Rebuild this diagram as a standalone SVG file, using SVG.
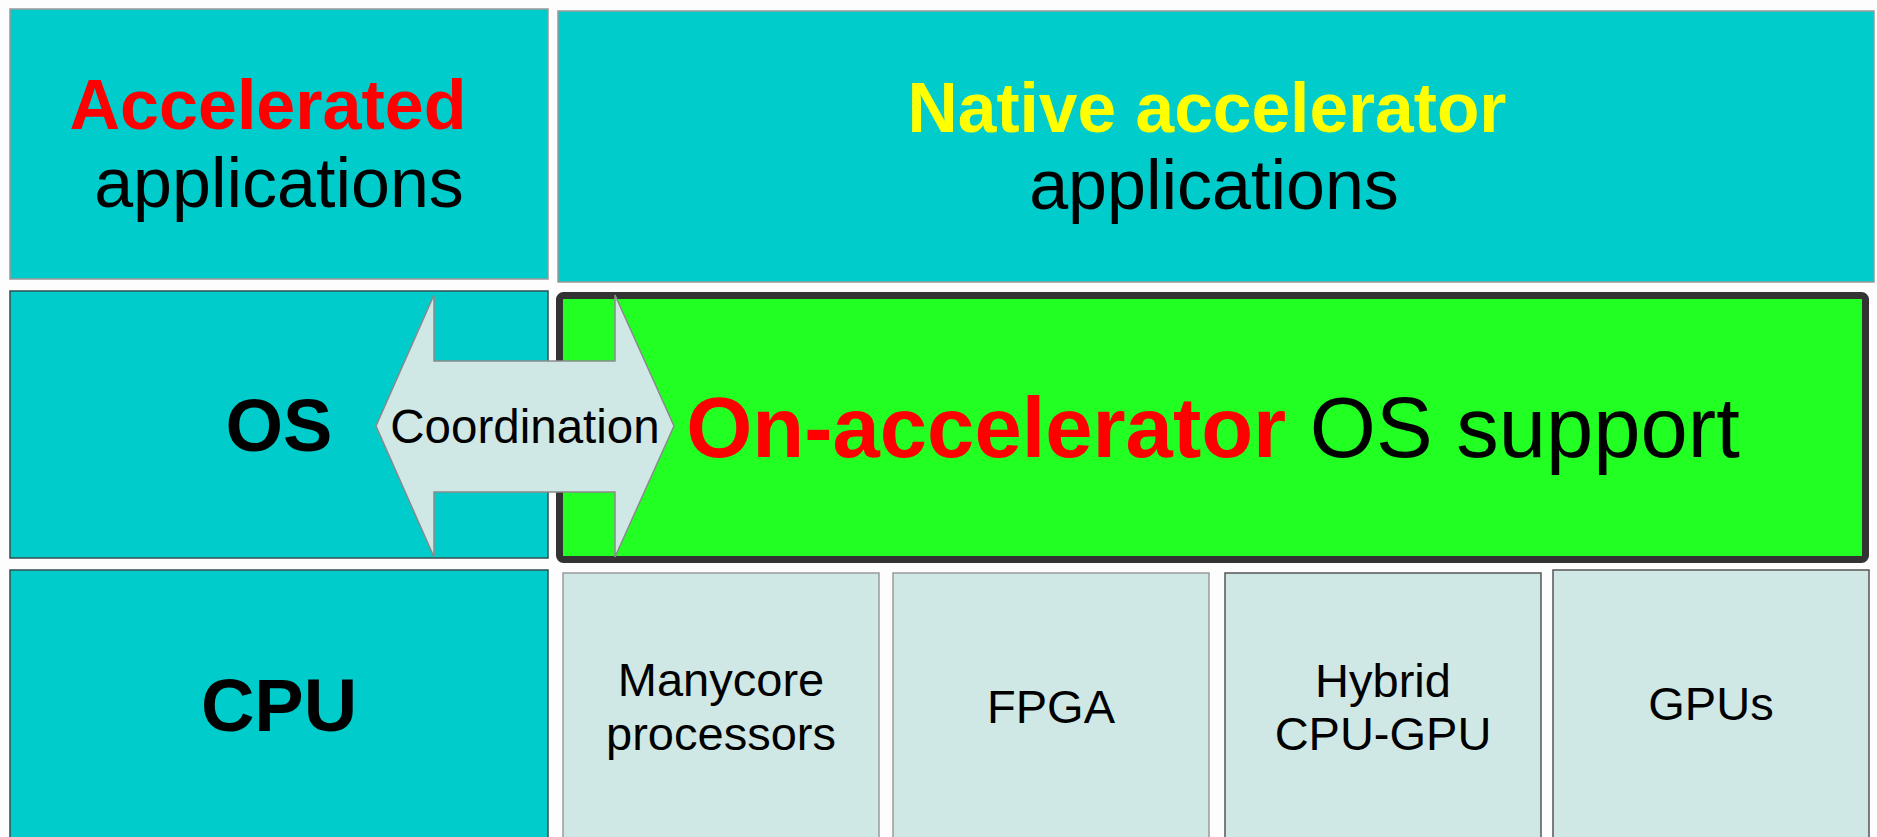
<svg xmlns="http://www.w3.org/2000/svg" width="1877" height="837" viewBox="0 0 1877 837">
  <style>
    text { font-family: "Liberation Sans", Arial, sans-serif; text-anchor: middle; }
    .b { font-weight: bold; }
    .cyan { fill: #00cccc; stroke: #999999; stroke-width: 1.5; }
    .cyan-dark { fill: #00cccc; stroke: #2f4f4f; stroke-width: 1.5; }
    .hw { fill: #d0e8e5; stroke: #9a9a9a; stroke-width: 1.5; }
    .hw-dark { fill: #d0e8e5; stroke: #555555; stroke-width: 1.5; }
  </style>
  <rect x="0" y="0" width="1877" height="837" fill="#fdfdfd"/>

  <g id="accelerated-apps">
    <rect class="cyan" x="10" y="9" width="538" height="270"/>
    <text class="b" x="268" y="129" font-size="70" fill="#ff0000">Accelerated</text>
    <text x="279" y="207" font-size="70" fill="#000">applications</text>
  </g>

  <g id="native-apps">
    <rect class="cyan" x="558" y="11" width="1316" height="271"/>
    <text class="b" x="1207" y="132" font-size="69.5" fill="#ffff00">Native accelerator</text>
    <text x="1214" y="209" font-size="70" fill="#000">applications</text>
  </g>

  <g id="os">
    <rect class="cyan-dark" x="10" y="291" width="538" height="267"/>
    <text class="b" x="279" y="451" font-size="74" fill="#000">OS</text>
  </g>

  <g id="on-accelerator-os">
    <rect x="559.5" y="295.5" width="1306" height="264" rx="4" fill="#22ff22" stroke="#333333" stroke-width="7"/>
    <text x="1213" y="457" font-size="85"><tspan class="b" fill="#ff0000">On-accelerator</tspan><tspan fill="#000"> OS support</tspan></text>
  </g>

  <g id="cpu">
    <rect class="cyan-dark" x="10" y="570" width="538" height="280"/>
    <text class="b" x="279" y="731" font-size="74" fill="#000">CPU</text>
  </g>

  <g id="manycore">
    <rect class="hw" x="563" y="573" width="316" height="280"/>
    <text x="721" y="696" font-size="47" fill="#000">Manycore</text>
    <text x="721" y="750" font-size="47" fill="#000">processors</text>
  </g>

  <g id="fpga">
    <rect class="hw" x="893" y="573" width="316" height="280"/>
    <text x="1051" y="723" font-size="47" fill="#000">FPGA</text>
  </g>

  <g id="hybrid">
    <rect class="hw-dark" x="1225" y="573" width="316" height="280"/>
    <text x="1383" y="697" font-size="47" fill="#000">Hybrid</text>
    <text x="1383" y="750" font-size="47" fill="#000">CPU-GPU</text>
  </g>

  <g id="gpus">
    <rect class="hw-dark" x="1553" y="570" width="316" height="280"/>
    <text x="1711" y="720" font-size="47" fill="#000">GPUs</text>
  </g>

  <g id="connectors">
    <path d="M376,426 L434,295 L434,361 L615,361 L615,295 L674,426 L615,557 L615,492 L434,492 L434,557 Z"
          fill="#d0e8e5" stroke="#8a8a8a" stroke-width="1.5" stroke-linejoin="miter"/>
    <text x="525" y="443" font-size="47.5" fill="#000">Coordination</text>
  </g>
</svg>
